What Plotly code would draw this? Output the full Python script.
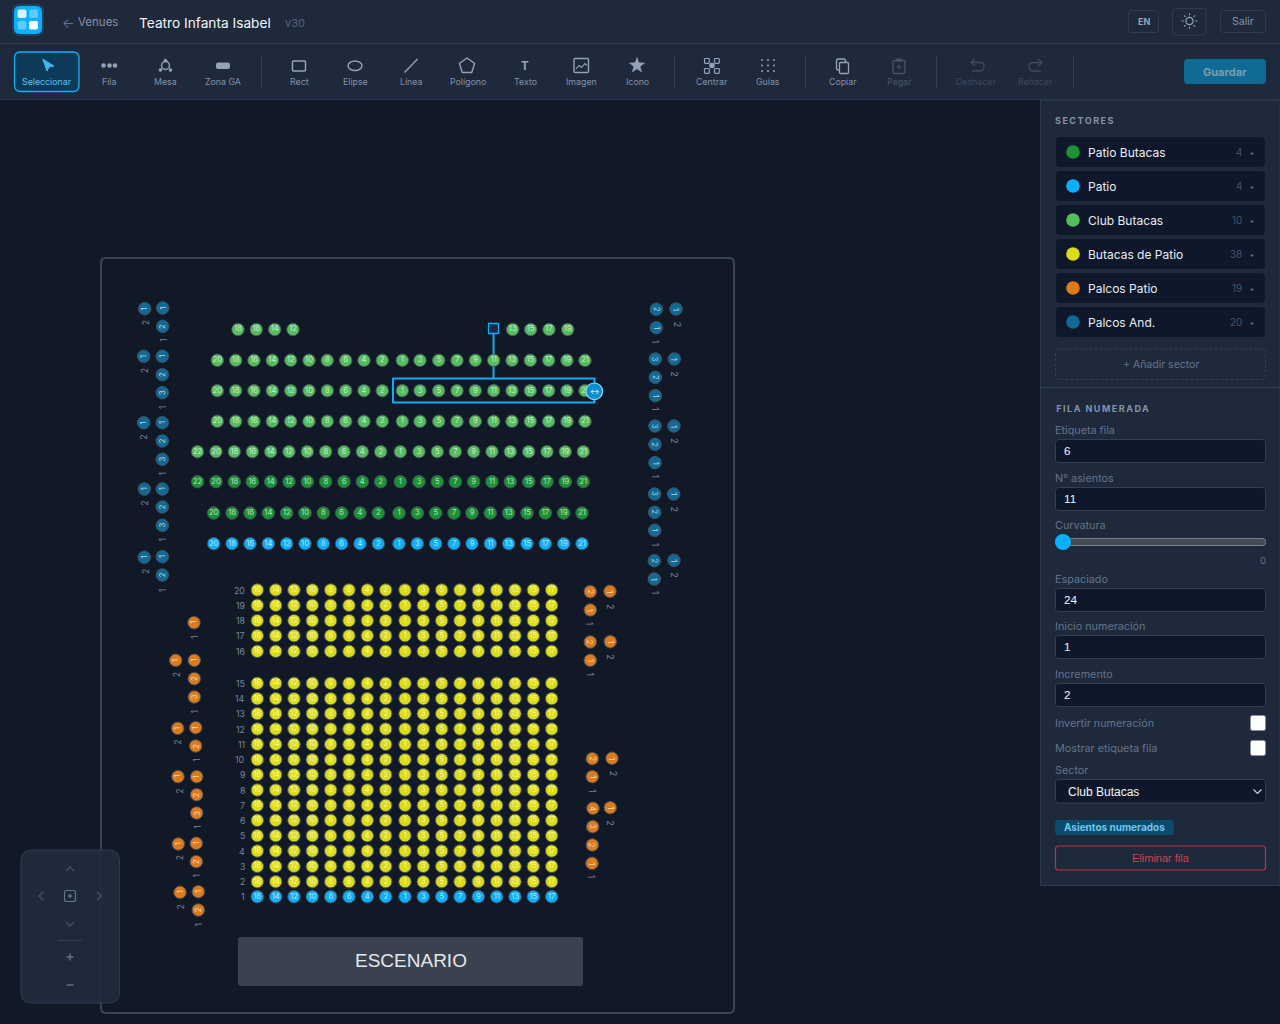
import math
import plotly.graph_objects as go

# Sector list in the side panel
sector_names = ["Patio Butacas", "Patio", "Club Butacas", "Butacas de Patio", "Palcos Patio", "Palcos And."]
sector_counts = [4, 4, 10, 38, 19, 20]
sector_colors = ["#1a9432", "#0ab0ff", "#55bd5c", "#dcdc16", "#dd7a1a", "#0f6a96"]

# Seat labels and seat columns for the straight rows
club_labels = ["20", "18", "16", "14", "12", "10", "8", "6", "4", "2", "1", "3", "5", "7", "9", "11", "13", "15", "17", "19", "21"]
club_x = [217.3, 235.7, 254, 272.3, 290.7, 309, 327.3, 345.7, 364, 382.3, 402.3, 420, 438.7, 457, 475.3, 493.7, 512, 530.3, 548.7, 567, 585]
club_rows_y = [360.3, 390.7, 421.3]

club_top_labels = ["18", "16", "14", "12", "13", "15", "17", "19"]
club_top_x = [238, 256.3, 274.7, 293, 512.7, 530.7, 549, 567.7]
club_top_y = 329.5

wide_labels = ["22"] + club_labels
wide_x = [197.5, 216, 234.3, 252.3, 270.7, 289, 307.3, 325.7, 344, 362.3, 380.7, 400.3, 419, 437.3, 455.3, 473.7, 492, 510.3, 528.7, 547, 565.3, 583.3]
wide_club_y = 451.7
wide_patio_butacas_y = 481.7

low_x = [213.7, 232, 250, 268.3, 286.7, 305, 323.3, 341.7, 360, 378.3, 399, 417.3, 435.7, 454, 472, 490.3, 508.7, 527, 545.3, 563.7, 582]
low_patio_butacas_y = 513
low_patio_y = 543.7

yellow_labels = ["16", "14", "12", "10", "8", "6", "4", "2", "1", "3", "5", "7", "9", "11", "13", "15", "17"]
yellow_x = [257.3, 275.7, 294, 312.3, 330.7, 349, 367.3, 385.7, 405, 423.3, 441.7, 460, 478.3, 496.7, 515, 533.3, 551.7]
yellow_row_names = ["20", "19", "18", "17", "16", "15", "14", "13", "12", "11", "10", "9", "8", "7", "6", "5", "4", "3", "2"]
yellow_rows_y = [590, 605.3, 620.7, 635.7, 651.3, 683.3, 698.7, 713.7, 729, 744.3, 759.7, 774.7, 790, 805.3, 820.3, 835.7, 851, 866.3, 881.7]
patio_row_name = "1"
patio_row_y = 896.7

# Box seats, read one by one
and_left_x = [144.7, 162.7, 162.7, 143.7, 162.3, 162.3, 162.3, 143.7, 162.3, 162.3, 162.3, 144.3, 162.3, 162.3, 162.3, 144.3, 162.3, 162.3]
and_left_y = [308.7, 308, 326.3, 356.3, 356.3, 374.7, 392.7, 422.7, 422.7, 441, 459.3, 489, 489, 507, 525.3, 557.3, 556.7, 575]
and_left_labels = ["1", "1", "2", "1", "1", "2", "3", "1", "1", "2", "3", "1", "1", "2", "3", "1", "1", "2"]
and_left_row_x = [145.3, 162.7, 144.3, 162.3, 144, 162.3, 145, 162.3, 145, 162.3]
and_left_row_y = [323, 340, 371, 407, 437.7, 473.3, 503.7, 539.3, 572, 590]
and_left_row_labels = ["2", "1", "2", "1", "2", "1", "2", "1", "2", "1"]

and_right_x = [656.3, 676, 656.3, 655.3, 674.3, 655.3, 655.3, 655, 674, 655, 655, 654.7, 673.7, 654.7, 654.7, 654.3, 674, 654.3]
and_right_y = [309.3, 309, 327.7, 359, 359, 377.3, 395.7, 426, 426, 444.3, 462.7, 494, 494, 512.3, 530.3, 560.7, 560.3, 579]
and_right_labels = ["2", "1", "1", "3", "1", "2", "1", "3", "1", "2", "1", "3", "1", "2", "1", "2", "1", "1"]
and_right_row_x = [677, 656.3, 675, 655.3, 674.7, 655.3, 674.3, 655, 674.7, 655]
and_right_row_y = [323.7, 342, 373.3, 409.3, 440.7, 476.7, 508.7, 544.7, 575, 592.7]
and_right_row_labels = ["2", "1", "2", "1", "2", "1", "2", "1", "2", "1"]

pal_left_x = [194, 175.7, 194.3, 194.3, 194.3, 177.7, 195.7, 195.7, 178, 196.7, 196.7, 196.7, 178.3, 196.3, 196.3, 180, 198.3, 198.3]
pal_left_y = [622.7, 660.3, 660.3, 678.7, 697, 728.3, 727.7, 746, 776.7, 776.7, 794.7, 813, 844, 843.3, 861.7, 892.3, 891.7, 910]
pal_left_labels = ["1", "1", "1", "2", "3", "1", "1", "2", "1", "1", "2", "3", "1", "1", "2", "1", "1", "2"]
pal_left_row_x = [194, 176.3, 194.3, 178, 195.7, 178.7, 196.7, 179, 196.7, 180.7, 198.3]
pal_left_row_y = [637, 675, 711.3, 742.7, 760, 791, 827, 858.3, 875.7, 906.7, 924.3]
pal_left_row_labels = ["1", "2", "1", "2", "1", "2", "1", "2", "1", "2", "1"]

pal_right_x = [590.3, 610, 590.3, 590.3, 610.3, 590.3, 592.3, 612, 592.3, 593, 610.3, 592.7, 592.3, 592]
pal_right_y = [591.7, 591.3, 610, 642, 641.7, 660.3, 758.7, 758.3, 776.7, 808.3, 807.7, 826.7, 845, 863.3]
pal_right_labels = ["2", "1", "1", "2", "1", "1", "2", "1", "1", "4", "1", "3", "2", "1"]
pal_right_row_x = [611, 590.3, 611, 590.7, 613, 592.7, 611, 592.3]
pal_right_row_y = [606, 624, 656.3, 674.3, 772.7, 790.7, 822.3, 877]
pal_right_row_labels = ["2", "1", "2", "1", "2", "1", "2", "1"]

# Toolbar
tool_names = ["Seleccionar", "Fila", "Mesa", "Zona GA", "Rect", "Elipse", "Línea", "Polígono", "Texto", "Imagen", "Icono", "Centrar", "Guías", "Copiar", "Pegar", "Deshacer", "Rehacer"]
tool_x = [47, 109, 165, 223, 299, 355, 411, 467.5, 525, 581, 637, 712, 768, 843, 899, 976, 1035]
tool_colors = ["#5cc4ee"] + ["#8493a8"] * 13 + ["#475569", "#3d4a5e", "#3d4a5e"]
separator_x = [261.5, 674.5, 805.5, 936.5, 1073.5]

# Form fields in the side panel
field_labels = ["Etiqueta fila", "N° asientos", "Espaciado", "Inicio numeración", "Incremento"]
field_values = ["6", "11", "24", "1", "2"]
field_label_y = [430, 478, 579, 626, 674]

BG = "#111927"
BAR = "#1e293b"
EDGE = "#334155"
ICON = "#94a3b8"
SEAT_TEXT = "rgba(255,255,255,0.72)"
UI_FONT = "Inter"
FORM_FONT = "Liberation Sans"

shapes = []
annotations = []


def rrect(x0, y0, x1, y1, r, fill=None, line=None, width=1, dash=None, layer="below"):
    path = (f"M{x0+r},{y0} L{x1-r},{y0} Q{x1},{y0} {x1},{y0+r} L{x1},{y1-r} Q{x1},{y1} {x1-r},{y1} "
            f"L{x0+r},{y1} Q{x0},{y1} {x0},{y1-r} L{x0},{y0+r} Q{x0},{y0} {x0+r},{y0} Z")
    shapes.append(dict(type="path", path=path, fillcolor=fill or "rgba(0,0,0,0)", layer=layer,
                       line=dict(color=line or "rgba(0,0,0,0)", width=width if line else 0, dash=dash or "solid")))


def stroke(path, color=ICON, width=1.4, fill=None, layer="below"):
    shapes.append(dict(type="path", path=path, layer=layer, fillcolor=fill or "rgba(0,0,0,0)",
                       line=dict(color=color, width=width)))


def circle(cx, cy, r, fill=None, line=None, width=1, layer="below"):
    shapes.append(dict(type="circle", x0=cx-r, x1=cx+r, y0=cy-r, y1=cy+r, layer=layer,
                       fillcolor=fill or "rgba(0,0,0,0)",
                       line=dict(color=line or "rgba(0,0,0,0)", width=width if line else 0)))


def label(x, y, text, size=10, color="#94a3b8", anchor="left", family=UI_FONT, angle=0, bold=False):
    if bold:
        text = f"<b>{text}</b>"
    annotations.append(dict(x=x, y=y, text=text, showarrow=False, xanchor=anchor, yanchor="middle",
                            textangle=angle, font=dict(size=size, color=color, family=family),
                            borderpad=0, borderwidth=0))


# Chrome: bars and panel
shapes.append(dict(type="rect", x0=0, x1=1280, y0=0, y1=99.5, fillcolor=BAR, line=dict(width=0), layer="below"))
shapes.append(dict(type="line", x0=0, x1=1280, y0=43.5, y1=43.5, line=dict(color=EDGE, width=1), layer="below"))
shapes.append(dict(type="line", x0=0, x1=1280, y0=99.5, y1=99.5, line=dict(color="#2c3a4e", width=1), layer="below"))
shapes.append(dict(type="rect", x0=1040.5, x1=1280, y0=100, y1=885.5, fillcolor=BAR, line=dict(color="#2c3a4e", width=1), layer="below"))

# Logo
rrect(12, 4, 44, 36, 8, fill="rgba(10,176,255,0.18)")
rrect(14, 6, 42, 34, 6, fill="#0ab0ff")
rrect(17.5, 9.5, 26.5, 18, 2, fill="#d8f2ff")
rrect(29, 9.5, 38, 18, 2, fill="#5ccbff")
rrect(17.5, 21, 26.5, 29.5, 2, fill="#5ccbff")
rrect(29, 21, 38, 29.5, 2, fill="#ffffff")

label(62, 22.5, "←", 13, "#64748b")
label(78, 22, "Venues", 11.5, "#8493a8")
label(139, 22.5, "Teatro Infanta Isabel", 13.7, "#f1f5f9")
label(285, 22.5, "v30", 11, "#566379")

# Top right buttons
rrect(1128.5, 10.5, 1158.5, 32.5, 3, line="#2f3d52")
label(1143.5, 21.5, "EN", 9, "#94a3b8", anchor="center", bold=True)
rrect(1172.5, 8.5, 1206, 35, 3, line="#2f3d52")
circle(1189.5, 21, 3.6, line=ICON, width=1.2)
for k in range(8):
    a = k * math.pi / 4
    stroke(f"M{1189.5+5.8*math.cos(a):.2f},{21+5.8*math.sin(a):.2f} L{1189.5+7.8*math.cos(a):.2f},{21+7.8*math.sin(a):.2f}", width=1.1)
rrect(1220.5, 10.5, 1265.5, 32.5, 3, line="#2f3d52")
label(1243, 21.5, "Salir", 10.5, "#8493a8", anchor="center")

# Toolbar
rrect(14.5, 52, 79, 91.5, 6, fill="#0c3a58", line="#0ab0ff", width=1.3)
for sx in separator_x:
    shapes.append(dict(type="line", x0=sx, x1=sx, y0=56, y1=88, line=dict(color=EDGE, width=1), layer="below"))
for name, tx, tc in zip(tool_names, tool_x, tool_colors):
    label(tx, 81.5, name, 8.8, tc, anchor="center")

rrect(1184, 59, 1266, 84, 4, fill="#0f6a96")
label(1225, 72, "Guardar", 11, "#7f9cb0", anchor="center", bold=True)

# Toolbar icons
stroke("M42.8,59.2 L54,66 L49,67 L47,71 Z", color="#3fb8ea", width=1, fill="#3fb8ea")
for dx in [103.5, 109.5, 115]:
    circle(dx, 65.5, 2.3, fill=ICON)
circle(165.5, 65.5, 4, line=ICON, width=1.5)
for dx, dy in [(165.5, 60.5), (160.5, 70), (170.5, 70)]:
    circle(dx, dy, 1.8, fill=ICON)
rrect(216, 62.5, 230, 69, 2, fill=ICON)
rrect(292.5, 61, 305.5, 71, 1, line=ICON, width=1.5)
shapes.append(dict(type="circle", x0=348, x1=362, y0=61, y1=70.5, layer="below", line=dict(color=ICON, width=1.4)))
stroke("M404.5,72.5 L417.5,59", width=1.4)
penta = [(467 + 8 * math.sin(2 * math.pi * k / 5), 66 - 8 * math.cos(2 * math.pi * k / 5)) for k in range(5)]
stroke("M" + " L".join(f"{px:.1f},{py:.1f}" for px, py in penta) + " Z")
label(525, 65.5, "T", 11.5, ICON, anchor="center", bold=True)
rrect(574, 58.5, 588.5, 72.5, 1, line=ICON, width=1.4)
stroke("M576,69 L579,65.5 L581.5,67.5 L585,63.5 L587,65.5", width=1.1)
star = []
for k in range(10):
    rad = 8 if k % 2 == 0 else 3.3
    star.append((637 + rad * math.sin(math.pi * k / 5), 65.5 - rad * math.cos(math.pi * k / 5)))
stroke("M" + " L".join(f"{px:.1f},{py:.1f}" for px, py in star) + " Z", width=0.5, fill=ICON)
for qx, qy in [(704.5, 58.5), (714.5, 58.5), (704.5, 68.5), (714.5, 68.5)]:
    rrect(qx, qy, qx + 4.8, qy + 4.8, 0.8, line=ICON, width=1.2)
circle(712, 65.5, 2.8, fill=ICON)
for gx in [762, 768, 774]:
    for gy in [60, 65.5, 71]:
        circle(gx, gy, 1, fill=ICON)
rrect(836.5, 59, 845.5, 70, 2, line=ICON, width=1.3)
rrect(839.5, 62.5, 848.5, 73.5, 1, fill=BAR, line=ICON, width=1.3)
rrect(893, 60.5, 905, 73.5, 2, line="#475569", width=1.3)
rrect(896, 58.5, 902, 61.5, 1, fill="#475569")
stroke("M899,64.5 L899,69.5 M896.5,67 L901.5,67", color="#475569", width=1.1)
stroke("M972,62.5 L980,62.5 Q984,62.5 984,66.5 Q984,71 980,71 L972,71 M975,59 L971,62.5 L975,66", color="#3d4a5e", width=1.4)
stroke("M1041,62.5 L1033,62.5 Q1029,62.5 1029,66.5 Q1029,71 1033,71 L1041,71 M1038,59 L1042,62.5 L1038,66", color="#3d4a5e", width=1.4)

# Venue frame and stage
rrect(101, 258, 734, 1013, 5, line="#3a4452", width=2)
rrect(238, 937, 583, 986, 3, fill="#3a4250")
label(411, 960, "ESCENARIO", 19, "#e5e7eb", anchor="center", family=FORM_FONT)

# Selected row outline and handle stem
rrect(393, 378.5, 594.5, 402.5, 0.1, line="#0ab0ff", width=2)
stroke("M493.5,334 L493.5,378", color="#0ab0ff", width=2)
rrect(488.5, 323.5, 498.5, 333.5, 0.1, fill=BAR, line="#0ab0ff", width=1.3)

# Side panel: sectors
label(1060.5, 120.5, "SECTORES", 9, "#8493a8", bold=True)
for i, (name, count, color) in enumerate(zip(sector_names, sector_counts, sector_colors)):
    top = 137 + 34 * i
    rrect(1056, top, 1265, top + 30, 4, fill="#0f172a")
    circle(1073, top + 15, 6.8, fill=color)
    label(1088, top + 15.2, name, 12, "#e8eef5")
    label(1242, top + 15.5, str(count), 9.8, "#475569", anchor="right")
    label(1252.5, top + 15.5, "▸", 6, "#64748b", anchor="center")
rrect(1055.5, 349, 1265.5, 379.5, 4, line=EDGE, width=1, dash="3px,2px")
label(1160.5, 364.5, "+ Añadir sector", 10.5, "#64748b", anchor="center")
shapes.append(dict(type="line", x0=1041, x1=1280, y0=387.5, y1=387.5, line=dict(color=EDGE, width=1), layer="below"))

# Side panel: row form
label(1065.5, 408.5, "FILA NUMERADA", 9, "#8493a8", bold=True)
for text, value, ly in zip(field_labels, field_values, field_label_y):
    label(1055, ly, text, 10.8, "#64748b")
    rrect(1055.5, ly + 9.5, 1265.5, ly + 32.5, 3, fill="#0f172a", line=EDGE)
    label(1064, ly + 20.7, value, 11.7, "#f1f5f9", family=FORM_FONT)
label(1055, 525, "Curvatura", 10.8, "#64748b")
rrect(1055.5, 538.5, 1265.5, 545.5, 3, fill="#454b54", line="#7b7f86", width=1)
circle(1063, 542, 8, fill="#0ab0ff")
label(1266, 560, "0", 9.5, "#64748b", anchor="right")
label(1055, 723, "Invertir numeración", 10.8, "#64748b")
rrect(1250.5, 715.5, 1265.5, 730.5, 2, fill="#ffffff", line="#8a8f98")
label(1055, 748, "Mostrar etiqueta fila", 10.8, "#64748b")
rrect(1250.5, 740.5, 1265.5, 755.5, 2, fill="#ffffff", line="#8a8f98")
label(1055, 770, "Sector", 10.8, "#64748b")
rrect(1055.5, 779.5, 1265.5, 803, 3, fill="#0f172a", line=EDGE)
label(1068, 792, "Club Butacas", 12, "#f1f5f9", family=FORM_FONT)
stroke("M1253.5,789.5 L1257.5,793.5 L1261.5,789.5", color="#cbd5e1", width=1.2)
rrect(1055, 820, 1174, 835, 3, fill="#0c4a6e")
label(1114.5, 827, "Asientos numerados", 10, "#6fc7ef", anchor="center", bold=True)
rrect(1055.5, 846, 1265.5, 870, 3, line="#b8343f", width=1.2)
label(1160.5, 858, "Eliminar fila", 11, "#d8404a", anchor="center", family=FORM_FONT)

# Map controls
rrect(21, 850, 119.5, 1003, 11, fill="rgba(31,43,60,0.93)", line="#2f3d52")
for path in ["M66,871 L70,867 L74,871", "M66,922 L70,926 L74,922", "M43,892 L39,896 L43,900", "M97,892 L101,896 L97,900"]:
    stroke(path, color="#475569", width=1.3)
rrect(64.5, 890.5, 75.5, 901.5, 2, line="#64748b", width=1.2)
circle(70, 896, 1.8, fill="#64748b")
shapes.append(dict(type="line", x0=58, x1=82, y0=940.5, y1=940.5, line=dict(color=EDGE, width=1), layer="below"))
stroke("M66.5,957 L73.5,957 M70,953.5 L70,960.5", color="#64748b", width=1.4)
stroke("M66.5,985 L73.5,985", color="#64748b", width=1.4)

# Row labels in the stalls
for rname, ry in zip(yellow_row_names + [patio_row_name], yellow_rows_y + [patio_row_y]):
    label(245, ry, rname, 8.8, "#7b8798", anchor="right")

fig = go.Figure()


def add_seats(xs, ys, texts, color, show_text=True):
    fig.add_trace(go.Scatter(
        x=xs, y=ys, text=texts if show_text else None,
        mode="markers+text" if show_text else "markers",
        textposition="middle center", cliponaxis=False, hoverinfo="skip", showlegend=False,
        textfont=dict(size=7.5, color=SEAT_TEXT, family=UI_FONT),
        marker=dict(size=12.5, color=color, line=dict(color="#475160", width=1)),
    ))


def rows(row_x, row_ys, row_labels):
    xs, ys, ts = [], [], []
    for ry in row_ys:
        xs += row_x
        ys += [ry] * len(row_x)
        ts += row_labels
    return xs, ys, ts


add_seats(*rows(club_top_x, [club_top_y], club_top_labels), sector_colors[2])
add_seats(*rows(club_x, club_rows_y, club_labels), sector_colors[2])
add_seats(*rows(wide_x, [wide_club_y], wide_labels), sector_colors[2])
add_seats(*rows(wide_x, [wide_patio_butacas_y], wide_labels), sector_colors[0])
add_seats(*rows(low_x, [low_patio_butacas_y], club_labels), sector_colors[0])
add_seats(*rows(low_x, [low_patio_y], club_labels), sector_colors[1])
add_seats(*rows(yellow_x, yellow_rows_y, yellow_labels), sector_colors[3])
add_seats(*rows(yellow_x, [patio_row_y], yellow_labels), sector_colors[1])

# Box seats have rotated numbers, so those go in as annotations
for xs, ys, ts, rx, ry, rt, color, angle in [
    (and_left_x, and_left_y, and_left_labels, and_left_row_x, and_left_row_y, and_left_row_labels, sector_colors[5], -90),
    (and_right_x, and_right_y, and_right_labels, and_right_row_x, and_right_row_y, and_right_row_labels, sector_colors[5], 90),
    (pal_left_x, pal_left_y, pal_left_labels, pal_left_row_x, pal_left_row_y, pal_left_row_labels, sector_colors[4], -90),
    (pal_right_x, pal_right_y, pal_right_labels, pal_right_row_x, pal_right_row_y, pal_right_row_labels, sector_colors[4], 90),
]:
    add_seats(xs, ys, ts, color, show_text=False)
    for sx, sy, st in zip(xs, ys, ts):
        label(sx, sy, st, 7.5, SEAT_TEXT, anchor="center", angle=angle)
    for sx, sy, st in zip(rx, ry, rt):
        label(sx, sy, st, 8.8, "#7b8798", anchor="center", angle=angle)

# Resize handle sits over the last seat of the row
circle(594.3, 391.3, 8.3, fill="#0b8fd0", line="#8fdcff", width=1.2, layer="above")
label(594.3, 391.5, "↔", 7, "#ffffff", anchor="center")

fig.update_layout(
    width=1280, height=1024,
    margin=dict(l=0, r=0, t=0, b=0),
    paper_bgcolor=BG, plot_bgcolor=BG,
    xaxis=dict(range=[0, 1280], visible=False, fixedrange=True),
    yaxis=dict(range=[1024, 0], visible=False, fixedrange=True),
    shapes=shapes, annotations=annotations, showlegend=False,
)

spacing_js = """
document.body.style.margin = '0';
document.body.style.overflow = 'hidden';
document.querySelectorAll('.annotation-text').forEach(function (t) {
  if (t.textContent === 'SECTORES' || t.textContent === 'FILA NUMERADA') { t.style.letterSpacing = '1.5px'; }
});
"""
fig.write_html("out.html", config={"displayModeBar": False}, post_script=spacing_js)
